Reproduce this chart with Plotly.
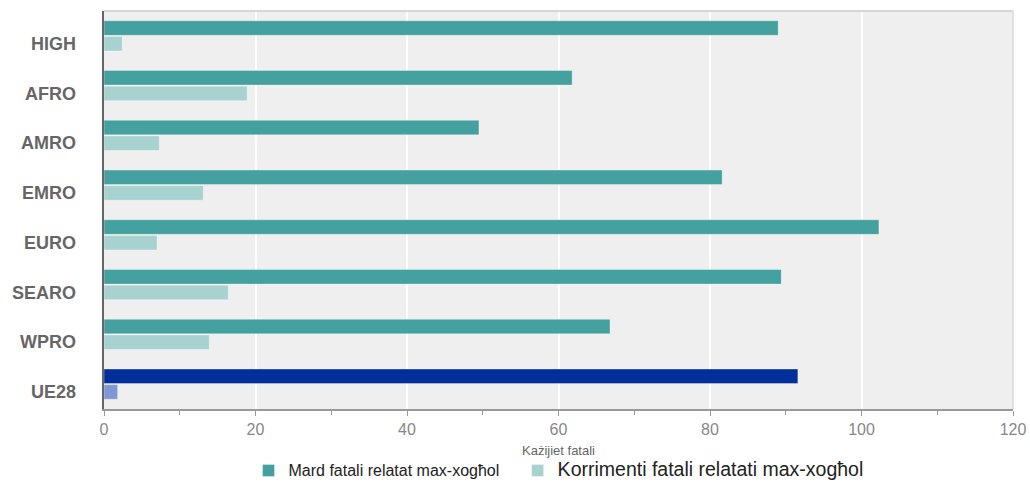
import plotly.graph_objects as go

categories = ["HIGH", "AFRO", "AMRO", "EMRO", "EURO", "SEARO", "WPRO", "UE28"]
fatal_diseases = [89.0, 61.8, 49.5, 81.6, 102.3, 89.4, 66.8, 91.6]
fatal_injuries = [2.4, 18.9, 7.3, 13.1, 7.0, 16.4, 13.9, 1.8]
series_names = ["Mard fatali relatat max-xogħol", "Korrimenti fatali relatati max-xogħol"]
x_title = "Każijiet fatali"
x_ticks = [0, 20, 40, 60, 80, 100, 120]

dark = "#45a0a0"
light = "#a8d2d0"
dark_eu = "#002f9a"
light_eu = "#7f97d4"

dark_colors = [dark_eu if c == "UE28" else dark for c in categories]
light_colors = [light_eu if c == "UE28" else light for c in categories]

fig = go.Figure()
fig.add_trace(go.Bar(
    y=categories, x=fatal_diseases, orientation="h",
    name='<span style="font-size:16px">' + series_names[0] + '&nbsp;&nbsp;&nbsp;</span>',
    marker=dict(color=dark_colors, line=dict(color="rgba(255,255,255,0.35)", width=1)),
))
fig.add_trace(go.Bar(
    y=categories, x=fatal_injuries, orientation="h",
    name='<span style="font-size:19.5px">' + series_names[1] + '</span>',
    marker=dict(color=light_colors, line=dict(color="rgba(255,255,255,0.35)", width=1)),
))

annotations = []
for c in categories:
    annotations.append(dict(
        x=0, xref="paper", y=c, yref="y", xanchor="right", yanchor="middle",
        xshift=-26, yshift=-8, showarrow=False, text="<b>" + c + "</b>",
        font=dict(family="Liberation Sans, Arial, sans-serif", size=18, color="#666666"),
    ))

fig.update_layout(
    width=1030, height=487,
    margin=dict(l=104, r=17, t=11, b=78, autoexpand=False),
    paper_bgcolor="#ffffff",
    plot_bgcolor="#efefef",
    barmode="group",
    bargap=0.37,
    bargroupgap=0.07,
    font=dict(family="Liberation Sans, Arial, sans-serif", color="#222222"),
    showlegend=True,
    legend=dict(
        orientation="h", x=0.159, xanchor="left", y=-0.155, yanchor="middle",
        font=dict(size=15, color="#222222"), bgcolor="rgba(0,0,0,0)",
        traceorder="normal",
    ),
    xaxis=dict(
        range=[0, 120], tickvals=x_ticks, ticks="outside", ticklen=5,
        tickcolor="#999999", tickfont=dict(size=16, color="#888888"),
        showgrid=True, gridcolor="#ffffff", gridwidth=2,
        showline=True, linecolor="#999999", linewidth=1.5,
        zeroline=False, automargin=False,
        minor=dict(dtick=10, ticks="outside", ticklen=4, tickcolor="#999999", showgrid=False),
        title=dict(text=x_title, font=dict(size=13, color="#666666"), standoff=9),
    ),
    yaxis=dict(
        autorange="reversed", showticklabels=False, ticks="",
        showgrid=False, showline=True, linecolor="#666666", linewidth=1.5,
        zeroline=False, automargin=False,
    ),
    annotations=annotations,
    shapes=[
        dict(type="line", xref="paper", yref="paper", x0=0, x1=1, y0=1, y1=1,
             line=dict(color="#c8cccc", width=1.5)),
        dict(type="line", xref="paper", yref="paper", x0=1, x1=1, y0=0, y1=1,
             line=dict(color="#d8dcdc", width=1.5)),
    ],
)

fig.write_html("out.html", config={"displayModeBar": False},
               post_script="document.body.style.margin='0';")
